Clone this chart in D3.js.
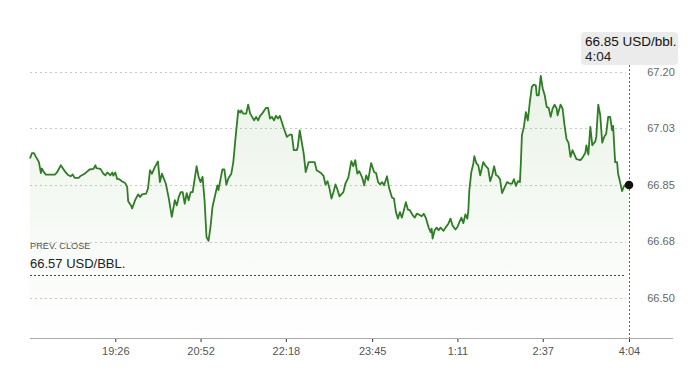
<!DOCTYPE html>
<html>
<head>
<meta charset="utf-8">
<script src="https://cdn.jsdelivr.net/npm/d3@7/dist/d3.min.js"></script>
<style>
  html, body { margin: 0; padding: 0; background: #fff; }
  svg { display: block; font-family: "Liberation Sans", Arial, Helvetica, sans-serif; }
</style>
</head>
<body>
<svg id="chart" width="700" height="384"></svg>
<script>
// ---- data ----
const sessionOpen = "18:00";
// minutes after the 18:00 open
const offsets = [0,2,4,6,9,11,12,14,16,25,27,31,35,38,41,43,45,49,51,55,57,60,64,66,67,71,74,76,78,81,83,84,86,88,90,93,96,98,99,102,103,
106,109,111,113,117,119,121,123,126,129,131,133,137,140,143,146,148,150,152,154,156,158,160,162,164,168,170,172,174,176,178,180,182,184,187,189,190,194,196,198,200,203,205,
207,209,210,212,213,215,218,220,222,224,226,228,230,232,234,238,240,242,244,246,248,250,252,256,259,262,264,266,269,270,272,274,276,278,281,287,289,291,293,296,
298,300,302,304,306,308,310,312,316,318,321,324,326,328,330,332,335,337,339,341,344,347,349,351,353,355,357,360,362,365,367,369,371,373,375,377,379,381,383,386,388,390,392,395,397,399,
402,404,405,406,408,410,412,414,417,419,422,424,426,429,431,433,435,437,439,441,442,443,445,447,448,450,452,454,457,459,462,464,466,468,470,472,474,476,478,481,484,486,488,490,492,494,
495,496,498,500,502,504,506,508,510,511,513,515,517,519,521,523,525,527,529,531,532,535,537,539,541,543,545,547,549,551,555,557,560,561,563,565,567,570,571,573,575,577,579,581,583,585,587,588,590,592,593,595,597,599,601,604];
const prices = [66.932,66.949,66.949,66.937,66.921,66.887,66.901,66.890,66.882,66.882,66.888,66.911,66.893,66.882,66.877,66.883,66.872,66.872,66.878,66.885,66.890,66.898,66.900,66.911,66.902,66.900,66.885,66.880,66.889,66.880,66.889,66.879,66.889,66.868,66.868,66.861,66.856,66.844,66.800,66.786,66.777,
66.803,66.821,66.813,66.821,66.823,66.839,66.896,66.885,66.906,66.923,66.859,66.885,66.854,66.808,66.751,66.803,66.787,66.813,66.828,66.828,66.792,66.825,66.803,66.828,66.828,66.908,66.875,66.859,66.875,66.803,66.689,66.677,66.720,66.782,66.823,66.849,66.834,66.898,66.898,66.851,66.870,66.885,66.921,
66.988,67.050,67.081,67.074,67.081,67.071,67.071,67.099,67.071,67.061,67.050,67.061,67.050,67.064,67.071,67.089,67.089,67.056,67.061,67.050,67.064,67.056,67.064,67.025,66.999,67.006,67.006,66.958,66.958,66.968,67.019,66.983,66.947,66.890,66.921,66.921,66.896,66.892,66.888,66.878,
66.851,66.862,66.839,66.808,66.828,66.852,66.836,66.815,66.828,66.854,66.873,66.924,66.908,66.927,66.885,66.893,66.873,66.849,66.880,66.865,66.918,66.890,66.887,66.859,66.852,66.859,66.849,66.877,66.842,66.811,66.808,66.766,66.746,66.766,66.749,66.772,66.797,66.774,66.772,66.756,66.749,66.761,66.759,66.753,66.761,66.749,
66.718,66.704,66.715,66.684,66.710,66.718,66.710,66.718,66.708,66.718,66.731,66.746,66.725,66.712,66.720,66.735,66.749,66.732,66.759,66.746,66.772,66.834,66.890,66.916,66.939,66.918,66.911,66.880,66.921,66.911,66.901,66.862,66.880,66.908,66.880,66.877,66.867,66.825,66.839,66.859,66.854,66.854,66.868,66.847,66.862,66.859,
66.921,67.004,67.030,67.076,67.050,67.107,67.154,67.161,67.159,67.128,67.128,67.188,67.149,67.128,67.092,67.089,67.061,67.087,67.099,67.087,67.066,67.099,67.087,67.035,66.992,66.981,66.937,66.958,66.944,66.930,66.927,66.934,66.950,66.973,66.944,67.030,66.973,66.985,66.999,67.099,67.066,66.981,66.999,67.009,67.061,67.061,67.019,67.033,66.921,66.921,66.885,66.859,66.831,66.847,66.852,66.850];
const xTickLabels = ["19:26","20:52","22:18","23:45","1:11","2:37","4:04"];
const yTickValues = [66.50, 66.675, 66.85, 67.025, 67.20];
const yTickLabels = ["66.50","66.68","66.85","67.03","67.20"];
const prevClose = 66.57;
const prevCloseLabel = "66.57 USD/BBL.";
const lastPriceLabel = "66.85 USD/bbl.";
const lastTimeLabel = "4:04";

(function () {
// ---- helpers ----
const base = new Date(2024, 0, 1, 18, 0);
function fromOffset(m) { return new Date(base.getTime() + m * 60000); }
function parseClock(s) {
  const [h, mi] = s.split(":").map(Number);
  const d = new Date(2024, 0, 1, h, mi);
  if (h < 18) d.setDate(d.getDate() + 1);
  return d;
}
const data = offsets.map((m, i) => ({ t: fromOffset(m), v: prices[i] }));
const last = data[data.length - 1];

// ---- layout ----
const svg = d3.select("#chart");
const plotLeft = 30, plotRight = 629, plotTop = 72, plotBottom = 298, axisY = 338;

const x = d3.scaleTime().domain([base, last.t]).range([plotLeft, plotRight]);
const y = d3.scaleLinear().domain([66.50, 67.20]).range([plotBottom, plotTop]);

// gradient
const defs = svg.append("defs");
const grad = defs.append("linearGradient").attr("id", "fillGrad")
  .attr("gradientUnits", "userSpaceOnUse").attr("x1", 0).attr("x2", 0)
  .attr("y1", plotTop).attr("y2", axisY);
grad.append("stop").attr("offset", 0).attr("stop-color", "#5fa14a").attr("stop-opacity", 0.13);
grad.append("stop").attr("offset", 1).attr("stop-color", "#5fa14a").attr("stop-opacity", 0.0);

// grid lines
svg.append("g").selectAll("line").data(yTickValues).join("line")
  .attr("x1", plotLeft).attr("x2", plotRight - 3)
  .attr("y1", d => Math.round(y(d)) + 0.5).attr("y2", d => Math.round(y(d)) + 0.5)
  .attr("stroke", "#c8c8c8").attr("stroke-width", 1).attr("stroke-dasharray", "2,3");

// area
const area = d3.area().x(d => x(d.t)).y0(axisY).y1(d => y(d.v)).curve(d3.curveLinear);
svg.append("path").datum(data).attr("d", area).attr("fill", "url(#fillGrad)");

// prev close line
svg.append("line")
  .attr("x1", plotLeft).attr("x2", plotRight - 3)
  .attr("y1", Math.round(y(prevClose)) + 0.5).attr("y2", Math.round(y(prevClose)) + 0.5)
  .attr("stroke", "#444").attr("stroke-width", 1).attr("stroke-dasharray", "2,2");

svg.append("text").attr("x", plotLeft).attr("y", 249)
  .attr("font-size", 9.2).attr("fill", "#555").text("PREV. CLOSE");
svg.append("text").attr("x", plotLeft).attr("y", 268)
  .attr("font-size", 13).attr("fill", "#222").text(prevCloseLabel);

// x axis
const xAxis = d3.axisBottom(x)
  .tickValues(xTickLabels.map(parseClock))
  .tickFormat((d, i) => xTickLabels[i])
  .tickSize(4).tickSizeOuter(0);
const gx = svg.append("g").attr("transform", `translate(0,${axisY})`).call(xAxis);
gx.select(".domain").remove();
gx.selectAll(".tick line").attr("stroke", "#333");
gx.selectAll(".tick text").attr("font-size", 11).attr("fill", "#555")
  .attr("font-family", "'Liberation Sans', Arial, sans-serif").attr("dy", "0.95em");
svg.append("line").attr("x1", plotLeft).attr("x2", 673)
  .attr("y1", axisY + 0.5).attr("y2", axisY + 0.5)
  .attr("stroke", "#aaa").attr("stroke-width", 1);

// y labels
svg.append("g").selectAll("text").data(yTickValues).join("text")
  .attr("x", 661).attr("y", d => y(d)).attr("dy", "0.35em")
  .attr("text-anchor", "middle").attr("font-size", 11).attr("fill", "#666")
  .text((d, i) => yTickLabels[i]);

// vertical cursor line
svg.append("line")
  .attr("x1", Math.round(x(last.t)) + 0.5).attr("x2", Math.round(x(last.t)) + 0.5)
  .attr("y1", 65).attr("y2", axisY)
  .attr("stroke", "#666").attr("stroke-width", 1).attr("stroke-dasharray", "2,2");

// price line
const line = d3.line().x(d => x(d.t)).y(d => y(d.v)).curve(d3.curveLinear);
svg.append("path").datum(data).attr("d", line)
  .attr("fill", "none").attr("stroke", "#2f7d25").attr("stroke-width", 1.8)
  .attr("stroke-linejoin", "round");

// last dot
svg.append("circle").attr("cx", x(last.t)).attr("cy", y(last.v)).attr("r", 4.3).attr("fill", "#111");

// tooltip
svg.append("rect").attr("x", 581).attr("y", 32).attr("width", 97).attr("height", 33)
  .attr("rx", 4).attr("fill", "#ebebeb");
svg.append("text").attr("x", 585).attr("y", 46).attr("font-size", 13.5).attr("fill", "#111").text(lastPriceLabel);
svg.append("text").attr("x", 585).attr("y", 61).attr("font-size", 13.5).attr("fill", "#222").text(lastTimeLabel);
})();
</script>
</body>
</html>
